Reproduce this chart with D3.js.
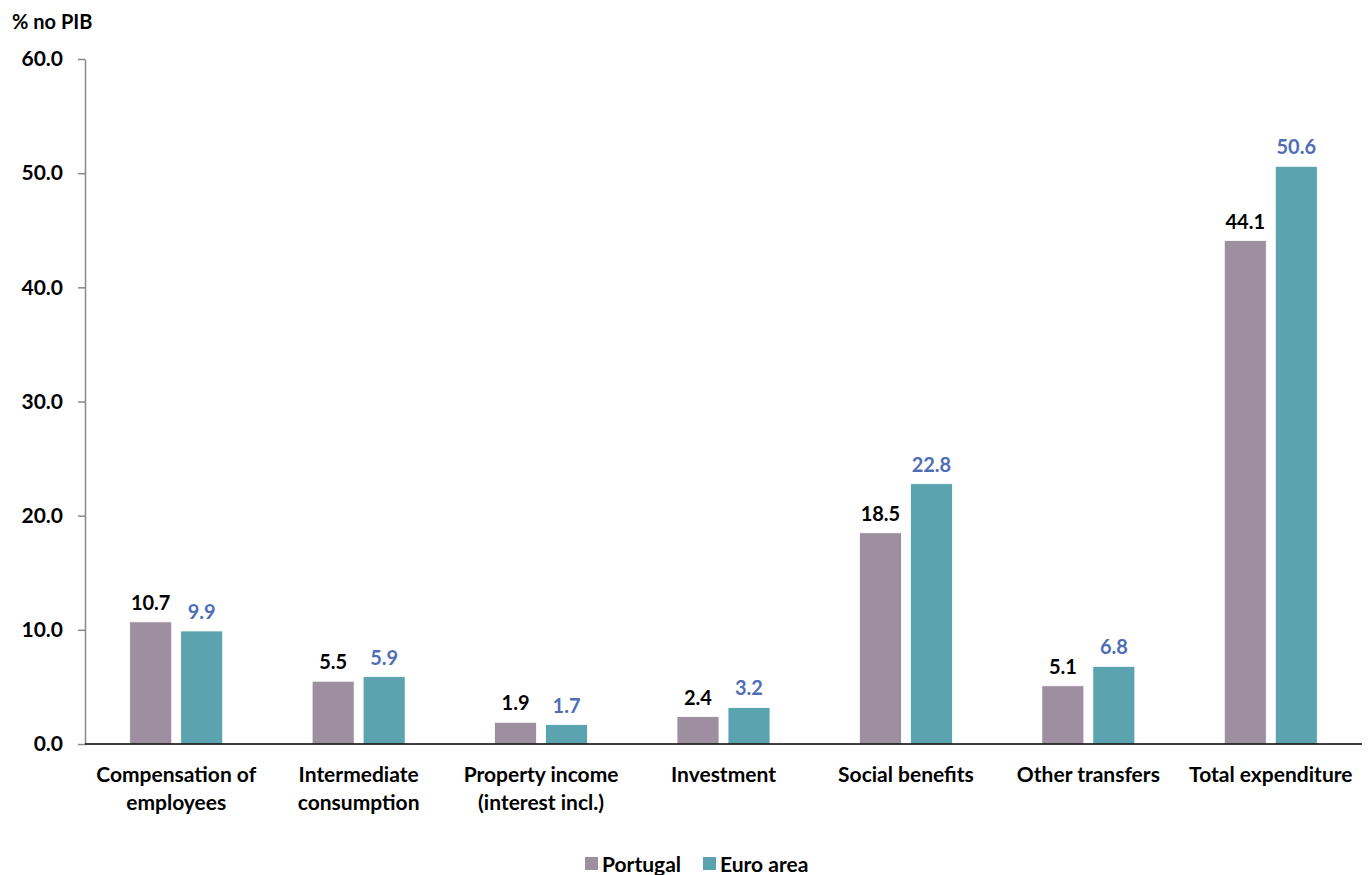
<!DOCTYPE html>
<html><head><meta charset="utf-8">
<script src="https://cdn.jsdelivr.net/npm/d3@7"></script>
<style>
body{margin:0;background:#fff;}
svg text{font-family:Lato,"Open Sans",sans-serif;font-weight:bold;}
</style></head>
<body><svg id="c" width="1370" height="875"></svg>
<script>
const categories = [["Compensation of","employees"],["Intermediate","consumption"],["Property income","(interest incl.)"],["Investment"],["Social benefits"],["Other transfers"],["Total expenditure"]];
const portugal = [10.7, 5.5, 1.9, 2.4, 18.5, 5.1, 44.1];
const euroArea = [9.9, 5.9, 1.7, 3.2, 22.8, 6.8, 50.6];
const yTicks = [0, 10, 20, 30, 40, 50, 60];
const seriesNames = ["Portugal", "Euro area"];
const colors = ["#9E8FA0", "#5BA3AE"];
const labelColors = ["#000000", "#4F6EB5"];

const svg = d3.select("#c");
const m = {l:85, r:1362, t:59, b:744};
const x = d3.scaleBand().domain(d3.range(categories.length)).range([m.l, m.r]);
const y = d3.scaleLinear().domain([0,60]).range([m.b, m.t]);

// y axis
const ya = svg.append("g").attr("transform",`translate(${m.l},0)`)
  .call(d3.axisLeft(y).tickValues(yTicks).tickFormat(d3.format(".1f")).tickSize(7).tickSizeOuter(0));
ya.select(".domain").attr("stroke","#888").attr("stroke-width",1.5);
ya.selectAll(".tick line").attr("stroke","#888").attr("stroke-width",1.5);
ya.selectAll(".tick text").attr("font-size",21).attr("fill","#000").attr("x",-22).attr("font-family","Lato,sans-serif").attr("font-weight","bold");

// title
svg.append("text").attr("x",12).attr("y",29).attr("font-size",20).attr("fill","#000").text("% no PIB");

const bw = 42, gap = 9;
const series = [portugal, euroArea];
series.forEach((vals, si) => {
  const off = si===0 ? -(gap/2+bw) : gap/2;
  svg.append("g").selectAll("rect").data(vals).join("rect")
    .attr("x",(d,i)=>x(i)+x.bandwidth()/2+off)
    .attr("y",d=>y(d)).attr("width",bw).attr("height",d=>y(0)-y(d))
    .attr("fill",colors[si]).attr("stroke","#fff").attr("stroke-width",0.8);
  svg.append("g").selectAll("text").data(vals).join("text")
    .attr("x",(d,i)=>x(i)+x.bandwidth()/2+off+bw/2)
    .attr("y",d=>y(d)-12).attr("text-anchor","middle").attr("font-size",20)
    .attr("fill",labelColors[si]).text(d=>d3.format(".1f")(d));
});

// x axis line
svg.append("line").attr("x1",m.l).attr("x2",m.r).attr("y1",y(0)).attr("y2",y(0)).attr("stroke","#000").attr("stroke-width",1.5);

// x labels
categories.forEach((lines,i)=>{
  const t = svg.append("text").attr("text-anchor","middle").attr("font-size",21).attr("fill","#000")
    .attr("x",x(i)+x.bandwidth()/2).attr("y",782);
  lines.forEach((l,j)=>t.append("tspan").attr("x",x(i)+x.bandwidth()/2).attr("dy",j?28:0).text(l));
});

// legend
const lg = svg.append("g");
const lx = [585, 703];
seriesNames.forEach((n,i)=>{
  lg.append("rect").attr("x",lx[i]).attr("y",857).attr("width",13).attr("height",13).attr("fill",colors[i]);
  lg.append("text").attr("x",lx[i]+17).attr("y",872).attr("font-size",21).attr("fill","#000").text(n);
});
</script></body></html>
